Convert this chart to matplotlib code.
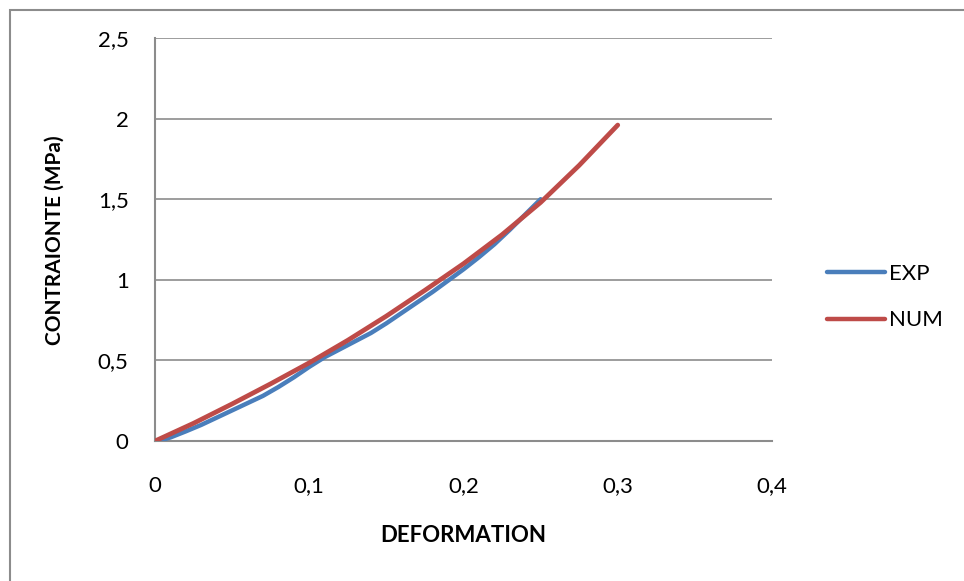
import matplotlib.pyplot as plt
from matplotlib.patches import Rectangle
from matplotlib.lines import Line2D

# Experimental stress-strain curve
exp_strain = [0.0, 0.005, 0.01, 0.02, 0.03, 0.04, 0.05, 0.06, 0.07, 0.08, 0.09,
              0.1, 0.11, 0.12, 0.13, 0.14, 0.15, 0.16, 0.17, 0.18, 0.19, 0.2,
              0.21, 0.22, 0.23, 0.24, 0.25]
exp_stress = [0.0, 0.008, 0.022, 0.06, 0.1, 0.145, 0.19, 0.235, 0.28, 0.335, 0.395,
              0.46, 0.52, 0.57, 0.62, 0.67, 0.73, 0.795, 0.86, 0.925, 0.995, 1.065,
              1.14, 1.22, 1.31, 1.405, 1.5]

# Numerical stress-strain curve
num_strain = [0.0, 0.025, 0.05, 0.075, 0.1, 0.125, 0.15, 0.175, 0.2, 0.225,
              0.25, 0.275, 0.3]
num_stress = [0.0, 0.11, 0.23, 0.355, 0.485, 0.625, 0.775, 0.935, 1.1, 1.28,
              1.48, 1.71, 1.96]

x_ticks = [0, 0.1, 0.2, 0.3, 0.4]
x_labels = ["0", "0,1", "0,2", "0,3", "0,4"]
y_ticks = [0, 0.5, 1, 1.5, 2, 2.5]
y_labels = ["0", "0,5", "1", "1,5", "2", "2,5"]

plt.rcParams['font.family'] = ['Lato', 'DejaVu Sans']

W, H = 964, 581
fig = plt.figure(figsize=(W / 100, H / 100), dpi=100)

# chart frame
fig.patches.append(Rectangle((10 / W, -0.1), 1.2, (H - 10) / H + 0.1,
                             transform=fig.transFigure, fill=False,
                             edgecolor='#8c8c8c', linewidth=1.5))

ax = fig.add_axes([155 / W, 1 - 441 / H, (772 - 155) / W, (441 - 38) / H])
ax.set_xlim(0, 0.4)
ax.set_ylim(0, 2.5)

blue = '#4A7EBB'
red = '#BE4B48'
ax.plot(exp_strain, exp_stress, color=blue, lw=3.2, solid_capstyle='round',
        solid_joinstyle='round', zorder=3)
ax.plot(num_strain, num_stress, color=red, lw=3.4, solid_capstyle='round',
        solid_joinstyle='round', zorder=4)

ax.set_xticks(x_ticks)
ax.set_xticklabels(x_labels)
ax.set_yticks(y_ticks)
ax.set_yticklabels(y_labels)
ax.tick_params(axis='both', length=0, labelsize=16, colors='black')
ax.tick_params(axis='x', pad=25)
ax.tick_params(axis='y', pad=19)
ax.grid(axis='y', color='#8c8c8c', linewidth=1.2)
for side in ['top', 'right']:
    ax.spines[side].set_visible(False)
for side in ['left', 'bottom']:
    ax.spines[side].set_color('#8c8c8c')
    ax.spines[side].set_linewidth(1.5)

fig.text(463 / W, 1 - 536 / H, "DEFORMATION", fontsize=16, fontweight='bold',
         ha='center', va='center')
fig.text(55 / W, 1 - 240 / H, "CONTRAIONTE (MPa)", fontsize=15, fontweight='bold',
         ha='center', va='center', rotation=90)

handles = [Line2D([], [], color=blue, lw=3.2, solid_capstyle='round'),
           Line2D([], [], color=red, lw=3.2, solid_capstyle='round')]
fig.legend(handles, ["EXP", "NUM"], loc='center left',
           bbox_to_anchor=(818 / W, 1 - 297 / H), frameon=False,
           fontsize=16, handlelength=2.6, handletextpad=0.2, labelspacing=1.2,
           borderaxespad=0)

fig.savefig("out.png", dpi=100)
